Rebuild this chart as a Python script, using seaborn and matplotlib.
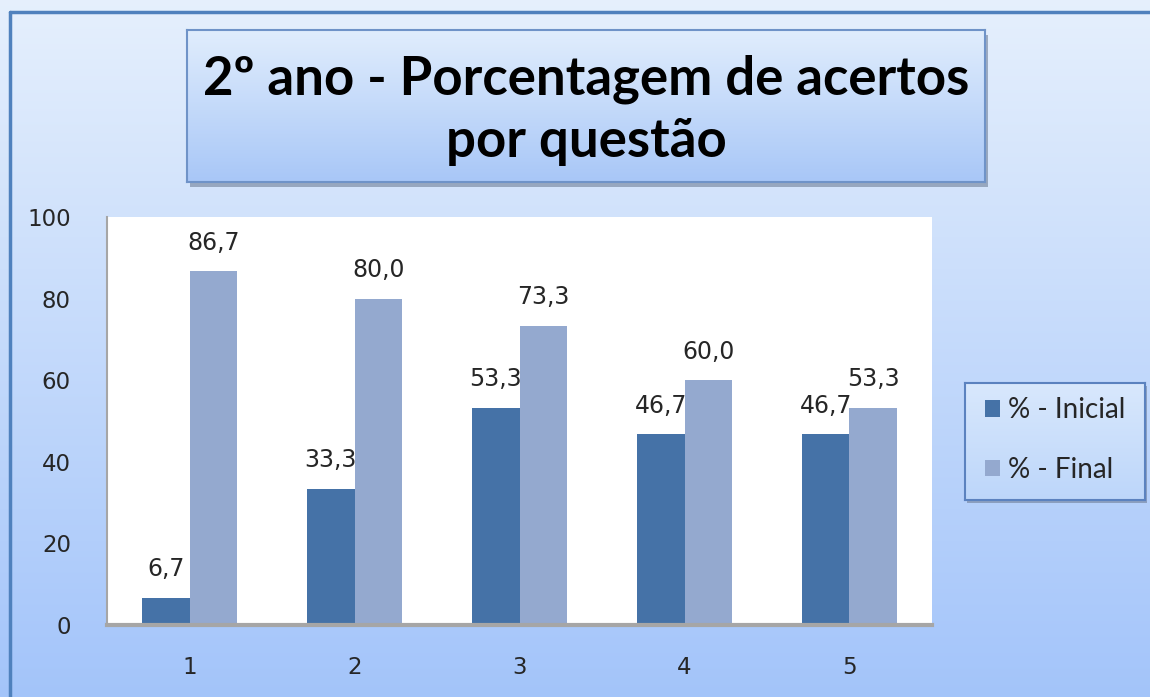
import numpy as np
import pandas as pd
import matplotlib
matplotlib.use("Agg")
from matplotlib import pyplot as plt
from matplotlib.patches import Rectangle
import seaborn as sns

# Chart data
questoes = ["1", "2", "3", "4", "5"]
inicial = [6.7, 33.3, 53.3, 46.7, 46.7]
final = [86.7, 80.0, 73.3, 60.0, 53.3]
series_names = ["% - Inicial", "% - Final"]
y_ticks = [0, 20, 40, 60, 80, 100]

colors = {"% - Inicial": "#4572a7", "% - Final": "#94a9cf"}

df = pd.DataFrame({
    "questao": questoes * 2,
    "valor": inicial + final,
    "serie": [series_names[0]] * len(questoes) + [series_names[1]] * len(questoes),
})

sns.set_style("white")
plt.rcParams["font.family"] = ["DejaVu Sans"]

fig = plt.figure(figsize=(11.5, 6.97), dpi=100)

# Gradient background of the chart area
bg = fig.add_axes([0, 0, 1, 1], zorder=-10)
grad = np.linspace(0, 1, 256).reshape(-1, 1)
top_c = np.array([0.90, 0.94, 0.99])
bot_c = np.array([0.64, 0.77, 0.98])
img = top_c[None, None, :] * (1 - grad[:, :, None]) + bot_c[None, None, :] * grad[:, :, None]
bg.imshow(img, aspect="auto", extent=[0, 1, 0, 1], origin="upper")
bg.set_xlim(0, 1)
bg.set_ylim(0, 1)
bg.axis("off")
# outer border (top and left visible)
bg.plot([10 / 1150, 10 / 1150], [0, 1 - 12 / 697], color="#4f81bd", lw=2.5)
bg.plot([10 / 1150, 1], [1 - 12 / 697, 1 - 12 / 697], color="#4f81bd", lw=2.5)

# Title box with gradient and shadow
tx0, tx1, ty0, ty1 = 187 / 1150, 985 / 1150, 1 - 182 / 697, 1 - 30 / 697
bg.add_patch(Rectangle((tx0 + 0.003, ty0 - 0.007), tx1 - tx0, ty1 - ty0,
                       facecolor="#6f7f98", edgecolor="none", alpha=0.6, zorder=1))
tbox = fig.add_axes([tx0, ty0, tx1 - tx0, ty1 - ty0], zorder=-5)
t_top = np.array([0.88, 0.93, 0.99])
t_bot = np.array([0.66, 0.78, 0.97])
timg = t_top[None, None, :] * (1 - grad[:, :, None]) + t_bot[None, None, :] * grad[:, :, None]
tbox.imshow(timg, aspect="auto", extent=[0, 1, 0, 1], origin="upper")
tbox.set_xticks([])
tbox.set_yticks([])
for s in tbox.spines.values():
    s.set_color("#6f93c8")
    s.set_linewidth(1.5)
tbox.text(0.5, 0.47, "2º ano - Porcentagem de acertos\npor questão",
          ha="center", va="center", fontsize=38, fontweight="bold",
          family=["Lato", "DejaVu Sans"], linespacing=1.32, color="black")

# Main bar chart
ax = fig.add_axes([107 / 1150, 1 - 625 / 697, 825 / 1150, 408 / 697])
ax.set_facecolor("white")
sns.barplot(data=df, x="questao", y="valor", hue="serie", order=questoes,
            hue_order=series_names, palette=colors, width=0.58,
            saturation=1, linewidth=0, ax=ax, legend=True)
ax.set_xlim(-0.5, len(questoes) - 0.5)
ax.set_ylim(0, 100)
ax.set_yticks(y_ticks)
ax.set_yticklabels([str(t) for t in y_ticks])
ax.set_xlabel("")
ax.set_ylabel("")
ax.tick_params(axis="both", length=0, labelsize=16.5, colors="#262626")
ax.tick_params(axis="y", pad=26)
ax.tick_params(axis="x", pad=22)
for side in ["top", "right"]:
    ax.spines[side].set_visible(False)
ax.spines["left"].set_color("#a6a6a6")
ax.spines["left"].set_linewidth(1.5)
ax.spines["bottom"].set_color("#a6a6a6")
ax.spines["bottom"].set_linewidth(3)

for cont in ax.containers:
    labels = [f"{v:.1f}".replace(".", ",") for v in cont.datavalues]
    ax.bar_label(cont, labels=labels, padding=12, fontsize=17, color="#262626")

# Legend box
handles, labels = ax.get_legend_handles_labels()
ax.legend_.remove()
lx0, lx1, ly0, ly1 = 965 / 1150, 1145 / 1150, 1 - 500 / 697, 1 - 383 / 697
bg.add_patch(Rectangle((lx0 + 0.002, ly0 - 0.005), lx1 - lx0, ly1 - ly0,
                       facecolor="#6f7f98", edgecolor="none", alpha=0.6, zorder=1))
lbox = fig.add_axes([lx0, ly0, lx1 - lx0, ly1 - ly0], zorder=-5)
l_top = np.array([0.85, 0.91, 0.99])
l_bot = np.array([0.74, 0.84, 0.98])
limg = l_top[None, None, :] * (1 - grad[:, :, None]) + l_bot[None, None, :] * grad[:, :, None]
lbox.imshow(limg, aspect="auto", extent=[0, 1, 0, 1], origin="upper")
lbox.set_xticks([])
lbox.set_yticks([])
for s in lbox.spines.values():
    s.set_color("#5b82bf")
    s.set_linewidth(1.5)
fig.legend(handles, labels, loc="center", bbox_to_anchor=((lx0 + lx1) / 2, (ly0 + ly1) / 2 + 0.002),
           frameon=False, prop={"family": ["Lato", "DejaVu Sans"], "size": 20},
           handlelength=0.55, handleheight=0.55, handletextpad=0.3, labelspacing=1.2)

fig.savefig("out.png", dpi=100)
plt.close()
